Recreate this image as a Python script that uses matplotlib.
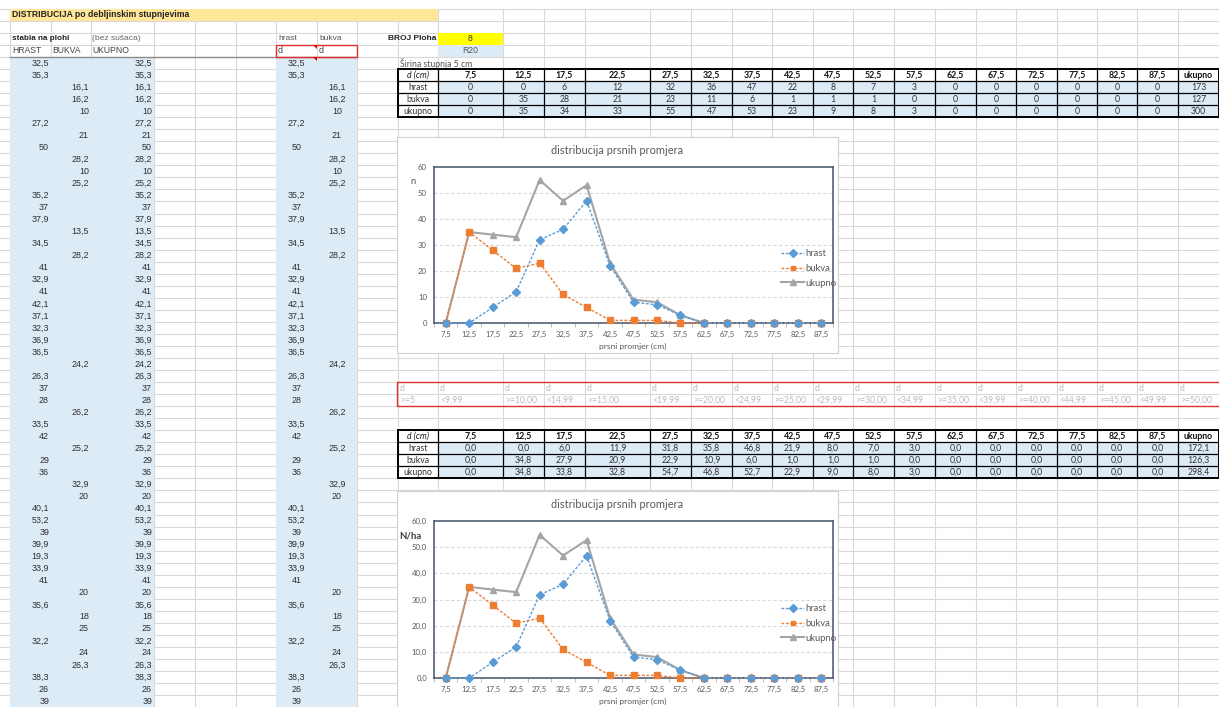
import matplotlib
matplotlib.use('Agg')
import matplotlib.pyplot as plt
from matplotlib.patches import Rectangle, Polygon
import numpy as np

# ---------------- data ----------------
tree_diam = [32.5, 35.3, 16.1, 16.2, 10, 27.2, 21, 50, 28.2, 10, 25.2, 35.2, 37, 37.9,
             13.5, 34.5, 28.2, 41, 32.9, 41, 42.1, 37.1, 32.3, 36.9, 36.5, 24.2, 26.3,
             37, 28, 26.2, 33.5, 42, 25.2, 29, 36, 32.9, 20, 40.1, 53.2, 39, 39.9, 19.3,
             33.9, 41, 20, 35.6, 18, 25, 32.2, 24, 26.3, 38.3, 26, 39]
tree_species = ['H', 'H', 'B', 'B', 'B', 'H', 'B', 'H', 'B', 'B', 'B', 'H', 'H', 'H',
                'B', 'H', 'B', 'H', 'H', 'H', 'H', 'H', 'H', 'H', 'H', 'B', 'H',
                'H', 'H', 'B', 'H', 'H', 'B', 'H', 'H', 'B', 'B', 'H', 'H', 'H', 'H', 'H',
                'H', 'H', 'B', 'H', 'B', 'B', 'H', 'B', 'B', 'H', 'H', 'H']

classes = [7.5, 12.5, 17.5, 22.5, 27.5, 32.5, 37.5, 42.5, 47.5, 52.5, 57.5, 62.5,
           67.5, 72.5, 77.5, 82.5, 87.5]
n_hrast = [0, 0, 6, 12, 32, 36, 47, 22, 8, 7, 3, 0, 0, 0, 0, 0, 0]
n_bukva = [0, 35, 28, 21, 23, 11, 6, 1, 1, 1, 0, 0, 0, 0, 0, 0, 0]
n_ukupno = [0, 35, 34, 33, 55, 47, 53, 23, 9, 8, 3, 0, 0, 0, 0, 0, 0]
n_totals = [173, 127, 300]

ha_hrast = [0.0, 0.0, 6.0, 11.9, 31.8, 35.8, 46.8, 21.9, 8.0, 7.0, 3.0, 0, 0, 0, 0, 0, 0]
ha_bukva = [0.0, 34.8, 27.9, 20.9, 22.9, 10.9, 6.0, 1.0, 1.0, 1.0, 0.0, 0, 0, 0, 0, 0, 0]
ha_ukupno = [0.0, 34.8, 33.8, 32.8, 54.7, 46.8, 52.7, 22.9, 9.0, 8.0, 3.0, 0, 0, 0, 0, 0, 0]
ha_totals = [172.1, 126.3, 298.4]

cond_labels = ['>=5', '<9,99', '>=10,00', '<14,99', '>=15,00', '<19,99', '>=20,00',
               '<24,99', '>=25,00', '<29,99', '>=30,00', '<34,99', '>=35,00', '<39,99',
               '>=40,00', '<44,99', '>=45,00', '<49,99', '>=50,00']
series_names = ['hrast', 'bukva', 'ukupno']
broj_ploha = 8
ploha_code = 'R20'

# ---------------- layout ----------------
W, H = 1219, 707
cols = [10, 51, 91, 154, 195, 236, 276, 317, 357, 398, 438, 503, 544, 585, 650, 691,
        732, 772, 813, 853, 894, 935, 976, 1016, 1057, 1097, 1137, 1178, 1219]
RH = 12.04
def ry(k):
    return 57 + k * RH

ARIAL = 'Liberation Sans'
CALIBRI = 'Lato'
TXT = '#2E2E2E'
BLUE_FILL = '#DDEBF7'
GRID = '#D9D9D9'
FS_CELL = 6.4
FS_TAB = 6.3

def fmt_num(v):
    if float(v) == int(v):
        return str(int(v))
    return str(v).replace('.', ',')

def fmt1(v):
    return f"{v:.1f}".replace('.', ',')

fig = plt.figure(figsize=(W / 100, H / 100), dpi=100)
bg = fig.add_axes([0, 0, 1, 1])
bg.set_xlim(0, W)
bg.set_ylim(H, 0)
bg.axis('off')

# gridlines
top = ry(-4)
for k in range(-4, 55):
    bg.plot([0, W], [ry(k), ry(k)], color=GRID, lw=0.8, zorder=1)
for x in cols:
    bg.plot([x, x], [top, H], color=GRID, lw=0.8, zorder=1)

def fill(x0, x1, y0, y1, color, z=2):
    bg.add_patch(Rectangle((x0, y0), x1 - x0, y1 - y0, facecolor=color,
                           edgecolor='none', zorder=z))

# fills
fill(10, 438, ry(-4), ry(-3), '#FFE699')
fill(10, 154, ry(0), H, BLUE_FILL)
fill(276, 357, ry(0), H, BLUE_FILL)
fill(438, 503, ry(-2), ry(-1), '#FFFF00')
fill(438, 503, ry(-1), ry(0), BLUE_FILL)
fill(438, 1219, ry(2), ry(5), BLUE_FILL)
fill(438, 1219, ry(32), ry(35), BLUE_FILL)

def ymid(k):
    return (ry(k) + ry(k + 1)) / 2

# header texts
bg.text(12, ymid(-4), 'DISTRIBUCIJA po debljinskim stupnjevima', fontsize=6.2,
        fontweight='bold', family=ARIAL, color='#222222', va='center', zorder=5)
bg.text(12, ymid(-2), 'stabla na plohi', fontsize=5.9, fontweight='bold', family=ARIAL,
        color='#222222', va='center', zorder=5)
bg.text(92, ymid(-2), '(bez sušaca)', fontsize=6.1, family=ARIAL, color='#666666',
        va='center', zorder=5)
bg.text(278, ymid(-2), 'hrast', fontsize=6, family=ARIAL, color='#555555',
        va='center', zorder=5)
bg.text(319, ymid(-2), 'bukva', fontsize=6, family=ARIAL, color='#555555',
        va='center', zorder=5)
bg.text(436, ymid(-2), 'BROJ Ploha', fontsize=6, fontweight='bold', family=ARIAL,
        color='#222222', va='center', ha='right', zorder=5)
bg.text(470, ymid(-2), str(broj_ploha), fontsize=6.2, family=ARIAL, color='#333333',
        va='center', ha='center', zorder=5)
bg.text(470, ymid(-1), ploha_code, fontsize=6.2, family=ARIAL, color='#555555',
        va='center', ha='center', zorder=5)
for x, t in [(12, 'HRAST'), (52, 'BUKVA'), (92, 'UKUPNO')]:
    bg.text(x, ymid(-1), t, fontsize=6.2, family=ARIAL, color='#444444', va='center', zorder=5)
bg.text(278, ymid(-1), 'd', fontsize=6.4, family=ARIAL, color='#444444', va='center', zorder=5)
bg.text(319, ymid(-1), 'd', fontsize=6.4, family=ARIAL, color='#444444', va='center', zorder=5)
bg.add_patch(Rectangle((276, ry(-1)), 81, RH, facecolor='none', edgecolor='#E03030',
                       lw=1.0, zorder=6))
bg.add_patch(Polygon([[313, ry(-1)], [317, ry(-1)], [317, ry(-1) + 4]], closed=True,
                     facecolor='#E00000', edgecolor='none', zorder=7))
bg.add_patch(Polygon([[313, ry(0)], [317, ry(0)], [317, ry(0) + 4]], closed=True,
                     facecolor='#E00000', edgecolor='none', zorder=7))
bg.plot([10, 357], [ry(0), ry(0)], color='#8C8C8C', lw=1.0, zorder=5)

# tree list
for i, (d, s) in enumerate(zip(tree_diam, tree_species)):
    y = ymid(i)
    t = fmt_num(d)
    if s == 'H':
        bg.text(49, y, t, fontsize=FS_CELL, family=ARIAL, color=TXT, ha='right', va='center', zorder=5)
        bg.text(296.5, y, t, fontsize=FS_CELL, family=ARIAL, color=TXT, ha='center', va='center', zorder=5)
    else:
        bg.text(89, y, t, fontsize=FS_CELL, family=ARIAL, color=TXT, ha='right', va='center', zorder=5)
        bg.text(337, y, t, fontsize=FS_CELL, family=ARIAL, color=TXT, ha='center', va='center', zorder=5)
    bg.text(152, y, t, fontsize=FS_CELL, family=ARIAL, color=TXT, ha='right', va='center', zorder=5)

bg.text(400, ymid(0), 'Širina stupnja 5 cm', fontsize=6.2, family=CALIBRI,
        color='#555555', va='center', zorder=5)

# tables
tcols = cols[9:]
def table(r0, rows, totals, fmt):
    y0, y1 = ry(r0), ry(r0 + 4)
    for k in range(r0, r0 + 5):
        lw = 1.4 if k in (r0, r0 + 4) else 0.9
        bg.plot([398, 1219], [ry(k), ry(k)], color='black', lw=lw, zorder=6)
    for j, x in enumerate(tcols):
        lw = 1.4 if j in (0, len(tcols) - 1) else 0.9
        bg.plot([x, x], [y0, y1], color='black', lw=lw, zorder=6)
    cx = [(tcols[j] + tcols[j + 1]) / 2 for j in range(len(tcols) - 1)]
    bg.text(cx[0], ymid(r0), 'd (cm)', fontsize=FS_TAB, family=CALIBRI, style='italic',
            color='#222222', ha='center', va='center', zorder=7)
    for j, c in enumerate(classes):
        bg.text(cx[j + 1], ymid(r0), fmt1(c), fontsize=FS_TAB, family=CALIBRI,
                fontweight='bold', color='#111111', ha='center', va='center', zorder=7)
    bg.text(cx[-1], ymid(r0), 'ukupno', fontsize=FS_TAB, family=CALIBRI, fontweight='bold',
            color='#111111', ha='center', va='center', zorder=7)
    for r, (name, vals, tot) in enumerate(zip(series_names, rows, totals)):
        k = r0 + 1 + r
        bg.text(cx[0], ymid(k), name, fontsize=FS_TAB, family=CALIBRI, color='#333333',
                ha='center', va='center', zorder=7)
        for j, v in enumerate(vals):
            bg.text(cx[j + 1], ymid(k), fmt(v), fontsize=FS_TAB, family=CALIBRI,
                    color='#333333', ha='center', va='center', zorder=7)
        bg.text(cx[-1], ymid(k), fmt(tot), fontsize=FS_TAB, family=CALIBRI,
                color='#333333', ha='center', va='center', zorder=7)

table(1, [n_hrast, n_bukva, n_ukupno], n_totals, lambda v: str(int(v)))
table(31, [ha_hrast, ha_bukva, ha_ukupno], ha_totals, fmt1)

# red band
bg.add_patch(Rectangle((397, ry(27)), 830, 2 * RH, facecolor='none',
                       edgecolor='#E03030', lw=1.0, zorder=6))
for j, lab in enumerate(cond_labels):
    x = cols[9 + j] + 2
    bg.text(x, ymid(27), 'd', fontsize=6.2, family=CALIBRI, color='#BBBBBB',
            va='center', zorder=7)
    bg.text(x, ymid(28), lab, fontsize=6.2, family=CALIBRI, color='#BBBBBB',
            va='center', zorder=7)

# charts
x_pos = np.arange(len(classes))
xt = [fmt1(c) for c in classes]

def chart(box_top, box_bot, p_top, p_bot, hr, bu, uk, yfmt, ylab, ylab_xy, ylab_kw, leg_y):
    bg.add_patch(Rectangle((397, box_top), 441, box_bot - box_top, facecolor='white',
                           edgecolor='#D0D0D0', lw=0.8, zorder=8))
    bg.text(617, box_top + 13.5, 'distribucija prsnih promjera', fontsize=7.9,
            family=CALIBRI, color='#595959', ha='center', va='center', zorder=9)
    bg.text(633, p_bot + 23, 'prsni promjer (cm)', fontsize=6.1, family=CALIBRI,
            color='#595959', ha='center', va='center', zorder=9)
    bg.text(ylab_xy[0], ylab_xy[1], ylab, family=CALIBRI, ha='left', va='center',
            zorder=9, **ylab_kw)
    ax = fig.add_axes([434 / W, 1 - p_bot / H, (833 - 434) / W, (p_bot - p_top) / H])
    ax.set_xlim(-0.5, len(classes) - 0.5)
    ax.set_ylim(0, 60)
    ax.set_facecolor('white')
    for yv in range(10, 60, 10):
        ax.axhline(yv, color='#D9D9D9', lw=0.8, ls=(0, (3, 2)), zorder=0)
    h1, = ax.plot(x_pos, hr, color='#5B9BD5', lw=1.0, ls=(0, (2, 1.2)), marker='D',
                  ms=4.4, mfc='#5B9BD5', mec='#5B9BD5', label=series_names[0], zorder=4,
                  clip_on=False)
    h2, = ax.plot(x_pos, bu, color='#ED7D31', lw=1.0, ls=(0, (2, 1.2)), marker='s',
                  ms=4.0, mfc='#ED7D31', mec='#ED7D31', label=series_names[1], zorder=3,
                  clip_on=False)
    h3, = ax.plot(x_pos, uk, color='#A5A5A5', lw=1.5, ls='-', marker='^',
                  ms=4.8, mfc='#A5A5A5', mec='#A5A5A5', label=series_names[2], zorder=2,
                  clip_on=False)
    ax.set_xticks(x_pos)
    ax.set_xticklabels(xt, fontsize=5.6, family=CALIBRI, color='#595959')
    ax.set_xticks(np.arange(-0.5, len(classes)), minor=True)
    ax.tick_params(axis='x', which='major', length=0, pad=6)
    ax.tick_params(axis='x', which='minor', length=3, color='#BFBFBF', width=0.7)
    ax.set_yticks(range(0, 61, 10))
    ax.set_yticklabels([yfmt(v) for v in range(0, 61, 10)], fontsize=5.6,
                       family=CALIBRI, color='#595959')
    ax.tick_params(axis='y', length=0, pad=5)
    for sp in ax.spines.values():
        sp.set_color('#44546A')
        sp.set_linewidth(1.1)
    ax.legend(handles=[h1, h2, h3], loc='upper left', bbox_to_anchor=(781, leg_y),
              bbox_transform=bg.transData, frameon=False,
              prop={'family': CALIBRI, 'size': 6.8}, handlelength=2.45,
              handletextpad=0.15, labelspacing=0.62, borderpad=0, borderaxespad=0,
              labelcolor='#595959', markerscale=0.85)
    return ax

chart(137, 353, 167, 323, n_hrast, n_bukva, n_ukupno, lambda v: str(v), 'n',
      (410, 182), {'fontsize': 6.8, 'color': '#595959'}, 249)
chart(491, 760, 521, 678, ha_hrast, ha_bukva, ha_ukupno, lambda v: f"{v},0", 'N/ha',
      (399, 536), {'fontsize': 7, 'color': '#404040', 'fontweight': 'bold'}, 604)

fig.savefig('out.png', dpi=100)
